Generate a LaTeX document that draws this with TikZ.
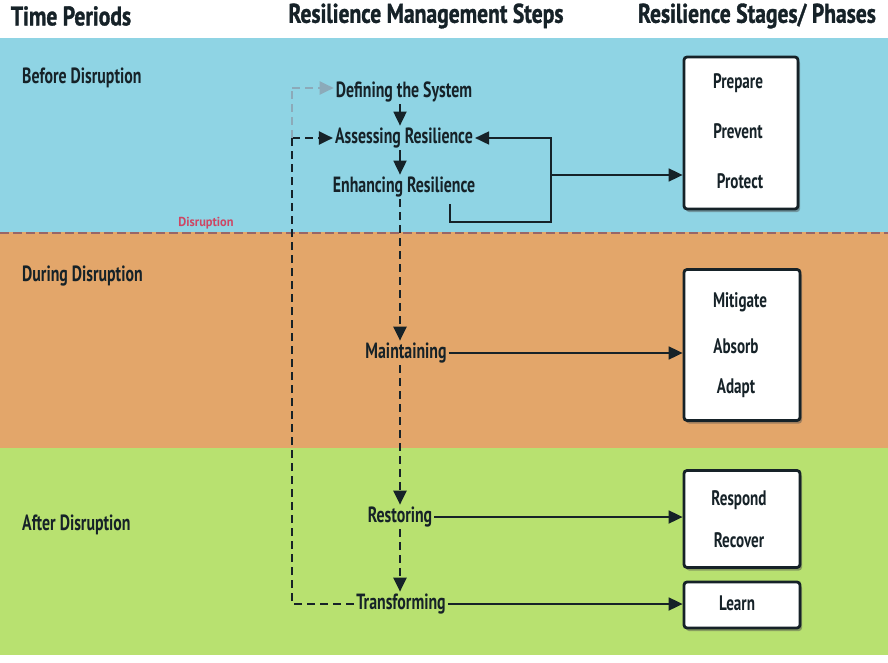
\documentclass[tikz,border=0pt]{standalone}
\usepackage{fontspec}
\setmainfont{PT Sans}[FakeStretch=0.72]
\newfontfamily\headfont{PT Sans}[FakeStretch=0.8, FakeBold=1.2]
\newfontfamily\labfont{PT Sans}[FakeStretch=0.95]
\usetikzlibrary{arrows.meta,shadows,calc}
\definecolor{bluebg}{RGB}{143,212,228}
\definecolor{orangebg}{RGB}{227,166,106}
\definecolor{greenbg}{RGB}{184,225,112}
\definecolor{ink}{RGB}{22,34,40}
\definecolor{disr}{RGB}{205,70,100}
\definecolor{ghost}{RGB}{140,170,185}
\tikzset{
  head/.style={font=\headfont\fontsize{27}{30}\selectfont\bfseries, text=ink, inner sep=0pt},
  period/.style={font=\fontsize{22}{25}\selectfont\bfseries, text=ink, inner sep=0pt, anchor=west},
  stepnode/.style={font=\fontsize{22}{25}\selectfont\bfseries, text=ink, inner sep=2pt},
  stagebox/.style={draw=ink, line width=2.8pt, fill=white, rounded corners=3pt,
    drop shadow={shadow xshift=2pt, shadow yshift=-3pt, opacity=0.45, fill=black!70}},
  stagetext/.style={font=\fontsize{21}{24}\selectfont\bfseries, text=ink, inner sep=0pt},
  arr/.style={draw=ink, line width=1.8pt, -{Triangle[length=14pt,width=13pt]}},
  darr/.style={draw=ink, line width=2.2pt, dash pattern=on 8pt off 5pt, -{Triangle[length=14pt,width=13pt]}},
  dline/.style={draw=ink, line width=2.2pt, dash pattern=on 8pt off 5pt},
}
\begin{document}
\begin{tikzpicture}[x=1pt,y=-1pt]
\useasboundingbox (0,0) rectangle (888,663);
\fill[white] (0,0) rectangle (888,663);
\fill[bluebg] (0,38) rectangle (888,232);
\fill[orangebg] (0,232) rectangle (888,448);
\fill[greenbg] (0,448) rectangle (888,655);
\draw[draw=gray!80!red, line width=1.6pt, dash pattern=on 9pt off 4pt] (0,233) -- (888,233);
\node[font=\labfont\fontsize{13}{15}\selectfont\bfseries, text=disr, inner sep=0pt] (dl) at (206,223) {Disruption};

% headings
\node[head] (h1) at (71,16) {Time Periods};
\node[head] (h2) at (426,16) {Resilience Management Steps};
\node[head] (h3) at (757,16) {Resilience Stages/ Phases};

% periods
\node[period] (p1) at (22,78) {Before Disruption};
\node[period] (p2) at (22,276) {During Disruption};
\node[period] (p3) at (22,525) {After Disruption};

% steps
\node[stepnode] (def) at (404,92) {Defining the System};
\node[stepnode] (ass) at (404,138) {Assessing Resilience};
\node[stepnode] (enh) at (404,187) {Enhancing Resilience};
\node[stepnode] (mai) at (406,353) {Maintaining};
\node[stepnode] (res) at (400,517) {Restoring};
\node[stepnode] (tra) at (401,604) {Transforming};

% stage boxes
\node[stagebox, minimum width=114pt, minimum height=152pt] (b1) at (741,133) {};
\node[stagebox, minimum width=116pt, minimum height=151pt] (b2) at (742,345) {};
\node[stagebox, minimum width=116pt, minimum height=97pt] (b3) at (742,519) {};
\node[stagebox, minimum width=116pt, minimum height=46pt] (b4) at (742,605) {};
\node[stagetext] (t1) at (738,83) {Prepare};
\node[stagetext] (t2) at (738,131) {Prevent};
\node[stagetext] (t3) at (740,181) {Protect};
\node[stagetext] (t4) at (740,302) {Mitigate};
\node[stagetext] (t5) at (736,346) {Absorb};
\node[stagetext] (t6) at (736,388) {Adapt};
\node[stagetext] (t7) at (739,500) {Respond};
\node[stagetext] (t8) at (739,540) {Recover};
\node[stagetext] (t9) at (737,603) {Learn};

% coordinates
\coordinate (vx) at (400,0);
\coordinate (L) at (292,0);
\coordinate (e1) at (450,204);
\coordinate (R) at (551,222);
\coordinate (Rm) at (551,175);
\coordinate (gy) at (0,88);

% vertical chain
\draw[arr] (def.south -| vx) -- (ass.north -| vx);
\draw[arr] (ass.south -| vx) -- (enh.north -| vx);
\draw[darr] (enh.south -| vx) -- (mai.north -| vx);
\draw[darr] (mai.south -| vx) -- (res.north -| vx);
\draw[darr] (res.south -| vx) -- (tra.north -| vx);

% left loop
\draw[dline] (tra.west) -- (tra.west -| L) -- (ass.west -| L);
\draw[darr] (ass.west -| L) -- (ass.west);
\draw[draw=ghost, line width=2pt, dash pattern=on 8pt off 5pt] (ass.west -| L) -- (gy -| L);
\draw[draw=ghost, line width=2pt, dash pattern=on 8pt off 5pt, -{Triangle[length=14pt,width=13pt]}] (gy -| L) -- (gy -| def.west);

% right feedback loop
\draw[arr] (e1) |- (R) -- (R |- ass.east) -- (ass.east);
\draw[arr] (Rm) -- (Rm -| b1.west);

% horizontal arrows
\draw[arr] (mai.east) -- (mai.east -| b2.west);
\draw[arr] (res.east) -- (res.east -| b3.west);
\draw[arr] (tra.east) -- (tra.east -| b4.west);
\end{tikzpicture}
\end{document}
